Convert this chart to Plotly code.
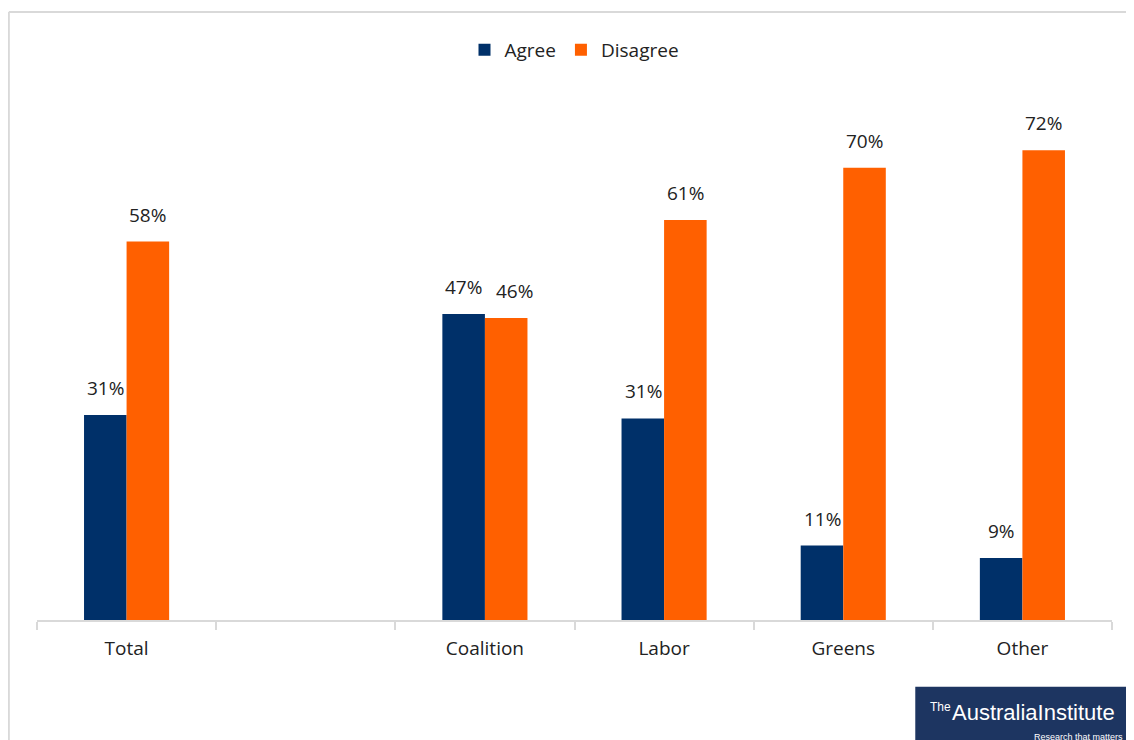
import plotly.graph_objects as go

categories = ["Total", " ", "Coalition", "Labor", "Greens", "Other"]
agree = [31.4, None, 46.9, 30.9, 11.4, 9.5]
disagree = [58.0, None, 46.3, 61.3, 69.3, 72.0]
agree_labels = ["31%", "", "47%", "31%", "11%", "9%"]
disagree_labels = ["58%", "", "46%", "61%", "70%", "72%"]

NAVY = "#003069"
ORANGE = "#FF6000"
FONT = "Open Sans, Liberation Sans, sans-serif"
LOGO_FONT = "Liberation Sans Narrow, Liberation Sans, sans-serif"

fig = go.Figure()
fig.add_bar(x=categories, y=agree, name="Agree", marker=dict(color=NAVY, line=dict(width=0)))
fig.add_bar(x=categories, y=disagree, name="Disagree", marker=dict(color=ORANGE, line=dict(width=0)))

annotations = []
for cat, v, t in zip(categories, agree, agree_labels):
    if v is not None:
        annotations.append(dict(x=cat, y=v, text=t, showarrow=False, xshift=-21, yshift=12,
                                yanchor="bottom", font=dict(size=19, color="#222", family=FONT)))
for cat, v, t in zip(categories, disagree, disagree_labels):
    if v is not None:
        nudge = 9 if cat == "Coalition" else 0  # label moved aside to avoid overlap, as in the original
        annotations.append(dict(x=cat, y=v, text=t, showarrow=False, xshift=21 + nudge, yshift=12,
                                yanchor="bottom", font=dict(size=19, color="#222", family=FONT)))

# logo texts
annotations.append(dict(xref="paper", yref="paper", x=0.8525, y=-0.166, xanchor="right", yanchor="middle",
                        text="The", showarrow=False,
                        font=dict(size=12, color="white", family=LOGO_FONT)))
annotations.append(dict(xref="paper", yref="paper", x=0.8495, y=-0.178, xanchor="left", yanchor="middle",
                        text="AustraliaInstitute", showarrow=False,
                        font=dict(size=22, color="white", family=LOGO_FONT)))
annotations.append(dict(xref="paper", yref="paper", x=1.012, y=-0.224, xanchor="right", yanchor="middle",
                        text="Research that matters", showarrow=False,
                        font=dict(size=9, color="white", family=LOGO_FONT)))

shapes = [
    # frame (left and top lines)
    dict(type="line", xref="paper", yref="paper", x0=-0.0262, x1=-0.0262, y0=1.1648, y1=-0.3,
         line=dict(color="#d9d9d9", width=2)),
    dict(type="line", xref="paper", yref="paper", x0=-0.0262, x1=1.03, y0=1.1648, y1=1.1648,
         line=dict(color="#d9d9d9", width=2)),
    # logo box
    dict(type="rect", xref="paper", yref="paper", x0=0.817, x1=1.03, y0=-0.128, y1=-0.25,
         fillcolor="#1d3561", line=dict(width=0), layer="above"),
]

fig.update_layout(
    width=1134, height=740,
    margin=dict(l=29, r=30, t=90, b=128),
    paper_bgcolor="white", plot_bgcolor="white",
    barmode="group", bargap=0.525, bargroupgap=0,
    font=dict(family=FONT, size=19, color="#222"),
    legend=dict(orientation="h", x=0.5, xanchor="center", y=1.092, yanchor="middle",
                font=dict(size=19, family=FONT), itemwidth=30, tracegroupgap=0),
    xaxis=dict(type="category", tickson="boundaries", ticks="outside", ticklen=8, tickcolor="#d9d9d9",
               tickwidth=2, showline=True, linecolor="#d9d9d9", linewidth=2, showgrid=False,
               ticklabelstandoff=10,
               tickfont=dict(size=19, family=FONT, color="#222")),
    yaxis=dict(range=[0, 80], visible=False, showgrid=False, zeroline=False),
    annotations=annotations,
    shapes=shapes,
    showlegend=True,
)

fig.write_html("out.html")
